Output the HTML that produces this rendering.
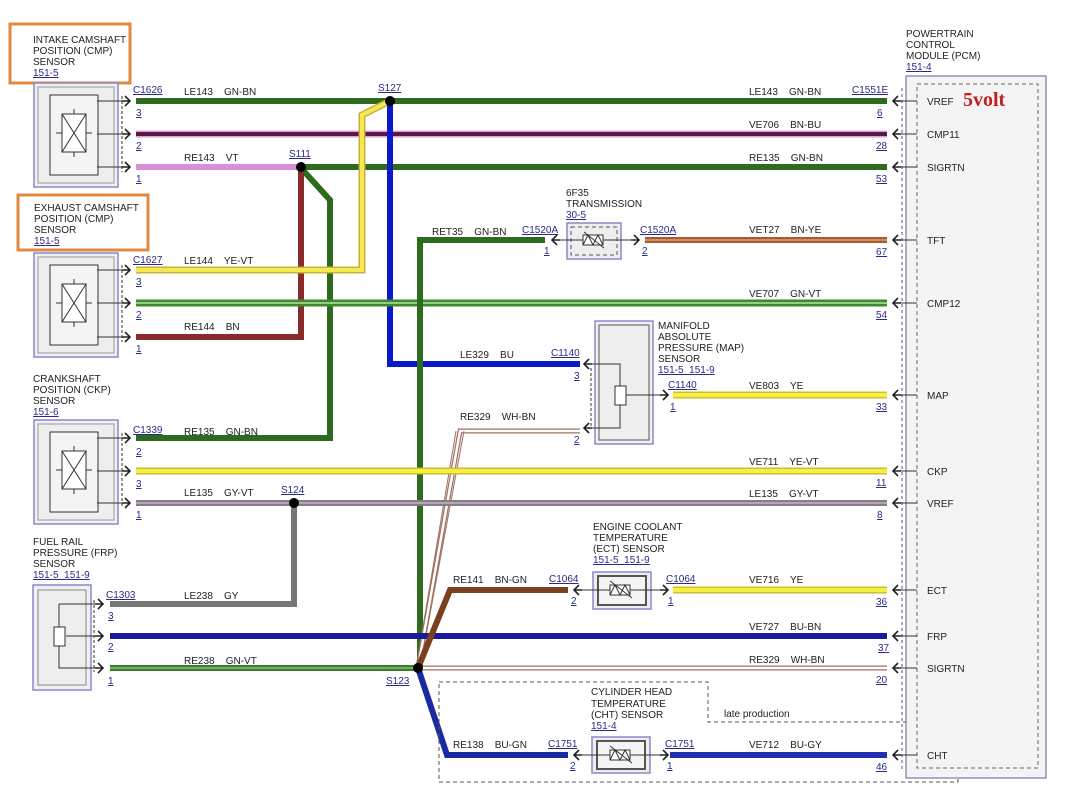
<!DOCTYPE html>
<html><head><meta charset="utf-8"><style>
html,body{margin:0;padding:0;background:#fff}
svg{display:block}
text{font-family:"Liberation Sans",sans-serif;font-size:10px;fill:#222;white-space:pre}
.u{fill:#2a2a8a;text-decoration:underline}
.ch{fill:none;stroke:#222;stroke-width:1.6}
</style></head><body>
<svg width="1072" height="798" viewBox="0 0 1072 798" xmlns="http://www.w3.org/2000/svg" xml:space="preserve">
<defs>
<g id="sx"><rect x="0" y="0" width="84" height="104" fill="#f0f0f0" stroke="#8888cc" stroke-width="1.5"/><rect x="4" y="4" width="76" height="96" fill="#eee" stroke="#999" stroke-width="1"/><rect x="16" y="12" width="48" height="80" fill="#f4f4f4" stroke="#333"/><rect x="28" y="31" width="24" height="38" fill="#fff" stroke="#333"/><path d="M28,31 L52,69 M52,31 L28,69 M40,26 V31 M40,69 V74 M22,50 H28 M52,50 H58" stroke="#333" fill="none"/></g>
<path id="ar" d="M-5,-5 L0,0 L-5,5 M-8,0 H0" class="ch"/>
<path id="al" d="M5,-5 L0,0 L5,5 M0,0 H8" class="ch"/>
</defs>

<rect x="10" y="24" width="120" height="59" fill="none" stroke="#e08a40" stroke-width="3"/>
<text x="33" y="43">INTAKE CAMSHAFT</text><text x="33" y="54">POSITION (CMP)</text><text x="33" y="65">SENSOR</text><text x="33" y="76" class="u">151-5</text>
<use href="#sx" x="34" y="83"/>
<rect x="18" y="195" width="130" height="55" fill="none" stroke="#e08a40" stroke-width="3"/>
<text x="34" y="211">EXHAUST CAMSHAFT</text><text x="34" y="222">POSITION (CMP)</text><text x="34" y="233">SENSOR</text><text x="34" y="244" class="u">151-5</text>
<use href="#sx" x="34" y="253"/>
<text x="33" y="382">CRANKSHAFT</text><text x="33" y="393">POSITION (CKP)</text><text x="33" y="404">SENSOR</text><text x="33" y="415" class="u">151-6</text>
<use href="#sx" x="34" y="420"/>
<text x="33" y="545">FUEL RAIL</text><text x="33" y="556">PRESSURE (FRP)</text><text x="33" y="567">SENSOR</text><text x="33" y="578" class="u">151-5  151-9</text>
<rect x="33" y="585" width="58" height="105" fill="#f0f0f0" stroke="#8888cc" stroke-width="1.5"/><rect x="38" y="590" width="48" height="95" fill="#eee" stroke="#888"/>
<path d="M59,604 H100 M59,604 V668 H100 M66,636 H100" stroke="#333" fill="none"/><rect x="54" y="627" width="11" height="19" fill="#fff" stroke="#333"/>
<g stroke="#333" fill="none"><path d="M97,101 H128 M97,134 H128 M97,167 H128 M97,270 H128 M97,303 H128 M97,337 H128 M97,438 H128 M97,471 H128 M97,503 H128"/></g>
<g stroke="#333" stroke-dasharray="3,2"><path d="M122,96 V172 M122,265 V342 M122,433 V508 M94,600 V672"/></g>
<g><use href="#ar" x="130" y="101"/><use href="#ar" x="130" y="134"/><use href="#ar" x="130" y="167"/><use href="#ar" x="130" y="270"/><use href="#ar" x="130" y="303"/><use href="#ar" x="130" y="337"/><use href="#ar" x="130" y="438"/><use href="#ar" x="130" y="471"/><use href="#ar" x="130" y="503"/><use href="#ar" x="103" y="604"/><use href="#ar" x="103" y="636"/><use href="#ar" x="103" y="668"/></g>

<g fill="none" stroke-linejoin="miter">
<path d="M136,101 H887" stroke="#2e6b1e" stroke-width="6"/>
<path d="M136,134 H887" stroke="#e0a0d0" stroke-width="7"/><path d="M136,134 H887" stroke="#5a1848" stroke-width="4"/>
<path d="M136,167 H300" stroke="#d890d8" stroke-width="6"/>
<path d="M300,167 H887" stroke="#2e6b1e" stroke-width="6"/>
<path d="M300,167 L330,200 V438 H136" stroke="#2e6b1e" stroke-width="6"/>
<path d="M301,167 V337 H136" stroke="#8b2a2a" stroke-width="6"/>
<path d="M136,270 H362 V115 L390,101" stroke="#c8b040" stroke-width="7"/><path d="M136,270 H362 V115 L390,101" stroke="#f4ea50" stroke-width="4"/>
<path d="M390,101 V364 H580" stroke="#0a1ac8" stroke-width="6"/>
<path d="M136,303 H887" stroke="#3c8a2c" stroke-width="7"/><path d="M136,303 H887" stroke="#b8e0a8" stroke-width="1.5"/>
<path d="M420,668 V240 H545" stroke="#2e6b1e" stroke-width="6"/>
<path d="M645,240 H887" stroke="#a85a30" stroke-width="6"/><path d="M645,240 H887" stroke="#e0a070" stroke-width="1.5"/>
<path d="M673,395 H887" stroke="#c8c030" stroke-width="7"/><path d="M673,395 H887" stroke="#f8f040" stroke-width="4"/>
<path d="M580,431 H460 L418,668" stroke="#a07060" stroke-width="5"/><path d="M580,431 H460 L418,668" stroke="#fff" stroke-width="2.5"/>
<path d="M464,431 L420,668 M456,431 L416,668" stroke="#a07060" stroke-width="1"/>
<path d="M136,471 H887" stroke="#c8c030" stroke-width="7"/><path d="M136,471 H887" stroke="#f8f040" stroke-width="4"/>
<path d="M136,503 H887" stroke="#8a7a8a" stroke-width="6"/><path d="M136,503 H887" stroke="#b0a8b0" stroke-width="2"/>
<path d="M294,503 V604 H110" stroke="#777" stroke-width="6"/>
<path d="M110,636 H887" stroke="#1a1a9a" stroke-width="6"/>
<path d="M110,668 H418" stroke="#3a7a2a" stroke-width="6"/><path d="M110,668 H418" stroke="#8ac07a" stroke-width="1.5"/>
<path d="M418,668 H887" stroke="#a07060" stroke-width="5"/><path d="M418,668 H887" stroke="#fff" stroke-width="2.5"/>
<path d="M418,668 L450,590 H568" stroke="#7a4020" stroke-width="6"/>
<path d="M673,590 H887" stroke="#c8c030" stroke-width="7"/><path d="M673,590 H887" stroke="#f8f040" stroke-width="4"/>
<path d="M418,668 L447,755 H568" stroke="#1a2aa0" stroke-width="6"/>
<path d="M670,755 H887" stroke="#2030b0" stroke-width="6"/>
</g>
<g fill="#000"><circle cx="390" cy="101" r="5"/><circle cx="301" cy="167" r="5"/><circle cx="294" cy="503" r="5"/><circle cx="418" cy="668" r="5"/></g>

<text x="133" y="93" class="u">C1626</text><text x="184" y="95">LE143    GN-BN</text><text x="136" y="116" class="u">3</text>
<text x="136" y="149" class="u">2</text>
<text x="184" y="161">RE143    VT</text><text x="136" y="182" class="u">1</text>
<text x="133" y="263" class="u">C1627</text><text x="184" y="264">LE144    YE-VT</text><text x="136" y="285" class="u">3</text>
<text x="136" y="318" class="u">2</text>
<text x="184" y="330">RE144    BN</text><text x="136" y="352" class="u">1</text>
<text x="133" y="433" class="u">C1339</text><text x="184" y="435">RE135    GN-BN</text><text x="136" y="455" class="u">2</text>
<text x="136" y="487" class="u">3</text>
<text x="184" y="496">LE135    GY-VT</text><text x="136" y="518" class="u">1</text>
<text x="106" y="598" class="u">C1303</text><text x="184" y="599">LE238    GY</text><text x="108" y="619" class="u">3</text>
<text x="108" y="650" class="u">2</text>
<text x="184" y="664">RE238    GN-VT</text><text x="108" y="684" class="u">1</text>
<text x="378" y="91" class="u">S127</text><text x="289" y="157" class="u">S111</text><text x="281" y="493" class="u">S124</text><text x="386" y="684" class="u">S123</text>

<text x="566" y="196">6F35</text><text x="566" y="207">TRANSMISSION</text><text x="566" y="218" class="u">30-5</text>
<rect x="567" y="223" width="54" height="36" fill="#eee" stroke="#8888cc" stroke-width="1.5"/><rect x="571" y="227" width="46" height="28" fill="none" stroke="#555" stroke-dasharray="4,3"/>
<path d="M552,240 H637" stroke="#333"/><rect x="583" y="235" width="20" height="10" fill="#fff" stroke="#333"/><path d="M583,245 L588,235 L593,245 L598,235 L603,245 M584,232 L604,248" stroke="#333" fill="none"/>
<use href="#al" x="552" y="240"/><use href="#ar" x="639" y="240"/>
<text x="432" y="235">RET35    GN-BN</text><text x="522" y="233" class="u">C1520A</text><text x="544" y="254" class="u">1</text>
<text x="640" y="233" class="u">C1520A</text><text x="642" y="254" class="u">2</text>

<rect x="595" y="321" width="58" height="123" fill="#f0f0f0" stroke="#8888cc" stroke-width="1.5"/><rect x="599" y="325" width="50" height="115" fill="#eee" stroke="#555"/>
<path d="M586,364 H620 V428 H586 M626,395 H667" stroke="#333" fill="none"/><rect x="615" y="386" width="11" height="19" fill="#fff" stroke="#333"/>
<path d="M591,368 V426" stroke="#333" stroke-dasharray="3,2"/>
<use href="#al" x="584" y="364"/><use href="#al" x="584" y="428"/><use href="#ar" x="668" y="395"/>
<text x="658" y="329">MANIFOLD</text><text x="658" y="340">ABSOLUTE</text><text x="658" y="351">PRESSURE (MAP)</text><text x="658" y="362">SENSOR</text><text x="658" y="373" class="u">151-5  151-9</text>
<text x="460" y="358">LE329    BU</text><text x="551" y="356" class="u">C1140</text><text x="574" y="379" class="u">3</text>
<text x="460" y="420">RE329    WH-BN</text><text x="574" y="443" class="u">2</text>
<text x="668" y="388" class="u">C1140</text><text x="670" y="410" class="u">1</text>

<text x="593" y="530">ENGINE COOLANT</text><text x="593" y="541">TEMPERATURE</text><text x="593" y="552">(ECT) SENSOR</text><text x="593" y="563" class="u">151-5  151-9</text>
<rect x="593" y="572" width="58" height="37" fill="#eee" stroke="#8888cc" stroke-width="1.5"/><rect x="598" y="576" width="48" height="29" fill="#f4f4f4" stroke="#555" stroke-width="2"/>
<path d="M575,590 H665" stroke="#333"/><rect x="610" y="585" width="20" height="10" fill="#fff" stroke="#333"/><path d="M610,595 L615,585 L620,595 L625,585 L630,595 M610,581 L632,598" stroke="#333" fill="none"/>
<use href="#al" x="574" y="590"/><use href="#ar" x="668" y="590"/>
<text x="453" y="583">RE141    BN-GN</text><text x="549" y="582" class="u">C1064</text><text x="571" y="604" class="u">2</text>
<text x="666" y="582" class="u">C1064</text><text x="668" y="604" class="u">1</text>

<path d="M439,682 H708 V722 H958 V782 H439 Z" fill="none" stroke="#555" stroke-dasharray="4,3"/>
<text x="724" y="717">late production</text>
<text x="591" y="695">CYLINDER HEAD</text><text x="591" y="707">TEMPERATURE</text><text x="591" y="718">(CHT) SENSOR</text><text x="591" y="729" class="u">151-4</text>
<rect x="592" y="737" width="58" height="36" fill="#eee" stroke="#8888cc" stroke-width="1.5"/><rect x="597" y="741" width="48" height="28" fill="#f4f4f4" stroke="#555" stroke-width="2"/>
<path d="M575,755 H665" stroke="#333"/><rect x="610" y="750" width="20" height="10" fill="#fff" stroke="#333"/><path d="M610,760 L615,750 L620,760 L625,750 L630,760 M610,746 L632,763" stroke="#333" fill="none"/>
<use href="#al" x="574" y="755"/><use href="#ar" x="668" y="755"/>
<text x="453" y="748">RE138    BU-GN</text><text x="548" y="747" class="u">C1751</text><text x="570" y="769" class="u">2</text>
<text x="665" y="747" class="u">C1751</text><text x="667" y="769" class="u">1</text>

<text x="906" y="37">POWERTRAIN</text><text x="906" y="48">CONTROL</text><text x="906" y="59">MODULE (PCM)</text><text x="906" y="70" class="u">151-4</text>
<rect x="906" y="76" width="140" height="702" fill="#f4f4f4" stroke="#7777aa" stroke-width="1.2"/>
<rect x="917" y="84" width="121" height="684" fill="none" stroke="#666" stroke-dasharray="4,3"/>
<path d="M902,88 V770" stroke="#555" stroke-dasharray="3,3"/>
<text x="963" y="106" style="font-family:'Liberation Serif',serif;font-size:20px;font-weight:bold;fill:#c02020">5volt</text>
<g stroke="#333"><path d="M893,101 H917 M893,134 H917 M893,167 H917 M893,240 H917 M893,303 H917 M893,395 H917 M893,471 H917 M893,503 H917 M893,590 H917 M893,636 H917 M893,668 H917 M893,755 H917"/></g>
<g><use href="#al" x="893" y="101"/><use href="#al" x="893" y="134"/><use href="#al" x="893" y="167"/><use href="#al" x="893" y="240"/><use href="#al" x="893" y="303"/><use href="#al" x="893" y="395"/><use href="#al" x="893" y="471"/><use href="#al" x="893" y="503"/><use href="#al" x="893" y="590"/><use href="#al" x="893" y="636"/><use href="#al" x="893" y="668"/><use href="#al" x="893" y="755"/></g>
<g><text x="927" y="105">VREF</text><text x="927" y="138">CMP11</text><text x="927" y="171">SIGRTN</text><text x="927" y="244">TFT</text><text x="927" y="307">CMP12</text><text x="927" y="399">MAP</text><text x="927" y="475">CKP</text><text x="927" y="507">VREF</text><text x="927" y="594">ECT</text><text x="927" y="640">FRP</text><text x="927" y="672">SIGRTN</text><text x="927" y="759">CHT</text></g>
<text x="852" y="93" class="u">C1551E</text>
<g><text x="877" y="116" class="u">6</text><text x="876" y="149" class="u">28</text><text x="876" y="182" class="u">53</text><text x="876" y="255" class="u">67</text><text x="876" y="318" class="u">54</text><text x="876" y="410" class="u">33</text><text x="876" y="486" class="u">11</text><text x="877" y="518" class="u">8</text><text x="876" y="605" class="u">36</text><text x="878" y="651" class="u">37</text><text x="876" y="683" class="u">20</text><text x="876" y="770" class="u">46</text></g>
<g><text x="749" y="95">LE143    GN-BN</text><text x="749" y="128">VE706    BN-BU</text><text x="749" y="161">RE135    GN-BN</text><text x="749" y="233">VET27    BN-YE</text><text x="749" y="297">VE707    GN-VT</text><text x="749" y="389">VE803    YE</text><text x="749" y="465">VE711    YE-VT</text><text x="749" y="497">LE135    GY-VT</text><text x="749" y="583">VE716    YE</text><text x="749" y="630">VE727    BU-BN</text><text x="749" y="663">RE329    WH-BN</text><text x="749" y="748">VE712    BU-GY</text></g>
</svg>
</body></html>
